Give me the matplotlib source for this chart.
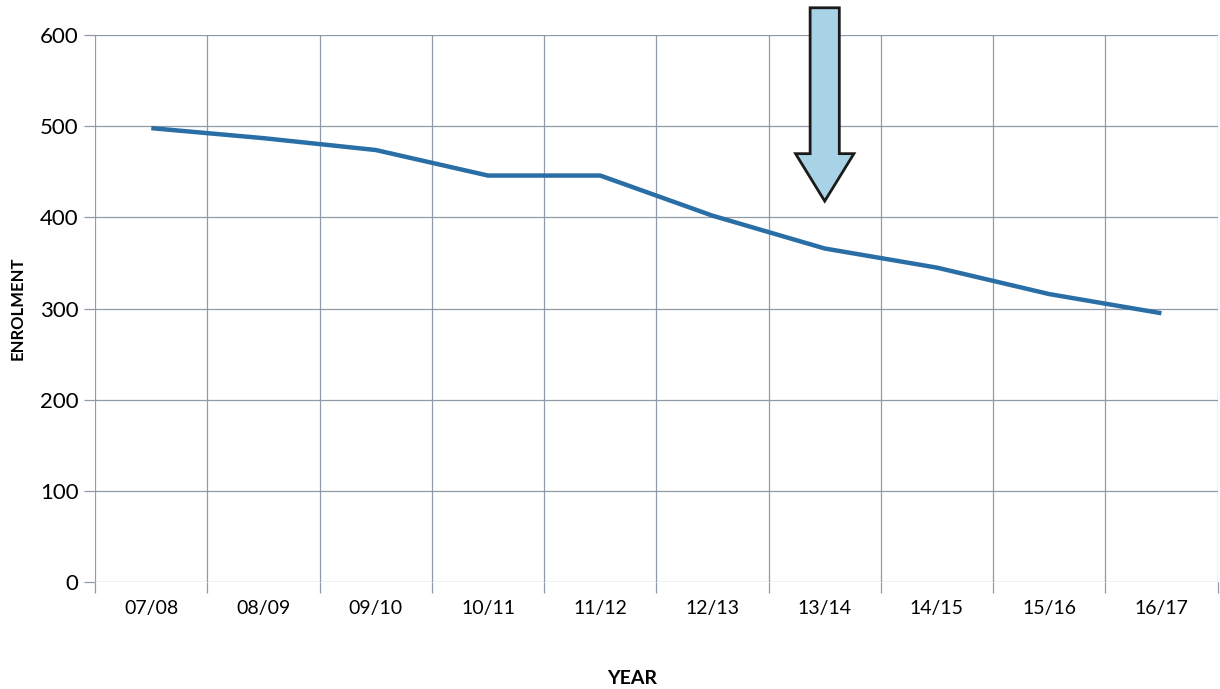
import matplotlib.pyplot as plt
from matplotlib.patches import Polygon
import numpy as np

years = ['07/08', '08/09', '09/10', '10/11', '11/12', '12/13', '13/14', '14/15', '15/16', '16/17']
enrolment = [498, 487, 474, 446, 446, 402, 366, 345, 316, 295]
y_ticks = [0, 100, 200, 300, 400, 500, 600]

# arrow pointing at 13/14
arrow_year = '13/14'
arrow_tip = 418

plt.rcParams['font.family'] = ['Lato', 'DejaVu Sans']

fig = plt.figure(figsize=(12.2, 6.89), dpi=100)
ax = fig.add_axes([0.078, 0.155, 0.920, 0.794])

x = np.arange(len(years))
ax.plot(x, enrolment, color='#2a6ea6', linewidth=3.2, solid_capstyle='butt', zorder=3)

ax.set_xlim(-0.5, len(years) - 0.5)
ax.set_ylim(0, 600)

grid_col = '#8f9aa6'
ax.set_xticks(x)
ax.set_xticklabels(years, fontsize=14)
ax.set_xticks(np.arange(len(years) + 1) - 0.5, minor=True)
ax.tick_params(axis='x', which='major', length=0, pad=13)
ax.tick_params(axis='x', which='minor', length=8, color=grid_col, width=0.9)
ax.set_yticks(y_ticks)
ax.set_yticklabels([str(v) for v in y_ticks], fontsize=16)
ax.tick_params(axis='y', length=8, color=grid_col, width=0.9, pad=4)

ax.grid(True, which='minor', axis='x', color=grid_col, linewidth=0.9)
ax.grid(True, which='major', axis='y', color=grid_col, linewidth=0.9)
for s in ax.spines.values():
    s.set_visible(False)

ax.set_ylabel('ENROLMENT', fontsize=12, fontweight='bold')
ax.yaxis.set_label_coords(-0.062, 0.5)
ax.set_xlabel('YEAR', fontsize=14, fontweight='bold', va='center')
ax.xaxis.set_label_coords(0.478, -0.176)

# block arrow
xc = years.index(arrow_year)
shaft = 0.13
head = 0.26
head_base = 470
top = 630
pts = [(xc - shaft, top), (xc + shaft, top), (xc + shaft, head_base),
       (xc + head, head_base), (xc, arrow_tip), (xc - head, head_base),
       (xc - shaft, head_base)]
ax.add_patch(Polygon(pts, closed=True, facecolor='#a8d3e6', edgecolor='#1a1a1a',
                     linewidth=2, clip_on=False, zorder=4))

fig.savefig('out.png', dpi=100)
